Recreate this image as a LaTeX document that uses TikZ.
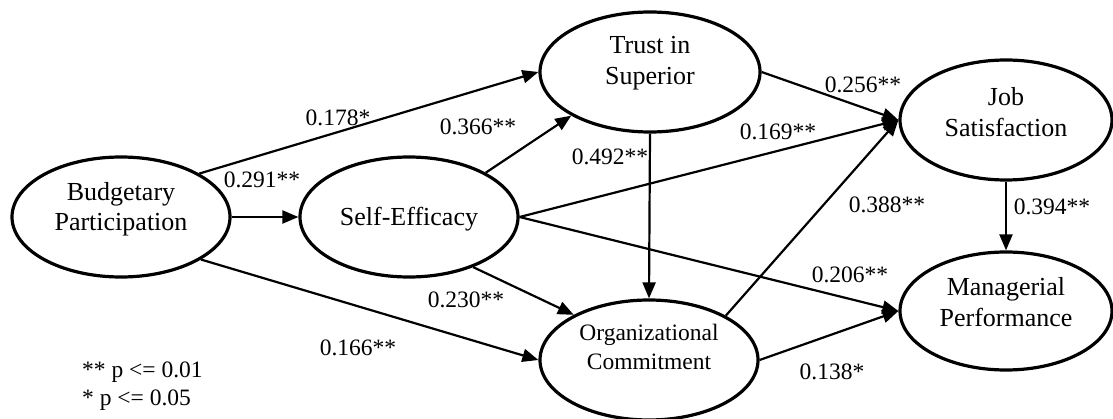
\documentclass[tikz,border=0pt]{standalone}
\usepackage{fontspec}
\setmainfont{Liberation Serif}
\usetikzlibrary{shapes.geometric,arrows.meta}
\begin{document}
\begin{tikzpicture}[x=1pt,y=-1pt,
  every node/.style={font=\fontsize{23.5}{30}\selectfont},
  latent/.style={ellipse,draw,line width=3.2pt,inner sep=0pt},
  pathline/.style={line width=2.2pt,-{Triangle[length=16pt,width=13pt]}},
  coef/.style={inner sep=0pt},
  ename/.style={align=center,inner sep=0pt,font=\fontsize{26}{30.5}\selectfont},
  enamesmall/.style={align=center,inner sep=0pt,font=\fontsize{23.5}{29}\selectfont}
]
\useasboundingbox (0,0) rectangle (1113,419);

\node[latent,minimum width=218pt,minimum height=120pt,label={[ename,yshift=8pt]center:Budgetary\\Participation}] (bp) at (121,217) {};
\node[latent,minimum width=218pt,minimum height=120pt,label={[ename,yshift=-2pt]center:Self-Efficacy}] (se) at (409,217) {};
\node[latent,minimum width=220pt,minimum height=120pt,label={[ename,yshift=9pt]center:Trust in\\Superior}] (ts) at (650,72) {};
\node[latent,minimum width=212pt,minimum height=120pt,label={[ename,yshift=8pt]center:Job\\Satisfaction}] (js) at (1006,120) {};
\node[latent,minimum width=218pt,minimum height=120pt,label={[enamesmall,yshift=13pt]center:Organizational\\Commitment}] (oc) at (649,360) {};
\node[latent,minimum width=212pt,minimum height=118pt,label={[ename,yshift=9pt]center:Managerial\\Performance}] (mp) at (1006,311) {};

\draw[pathline] (bp.29.5) -- (ts.west);
\draw[pathline] (bp.east) -- (se.west);
\draw[pathline] (bp.-28.6) -- (oc.west);
\draw[pathline] (se.30.6) -- (ts.209.4);
\draw[pathline] (se.east) -- (js.west);
\draw[pathline] (se.east) -- (mp.west);
\draw[pathline] (se.-38.9) -- (oc.149.7);
\draw[pathline] (ts.south) -- (oc.north);
\draw[pathline] (ts.east) -- (js.west);
\draw[pathline] (oc.30.6) -- (js.west);
\draw[pathline] (oc.east) -- (mp.west);
\draw[pathline] (js.south) -- (mp.north);

\node[coef] (l1) at (338,118) {0.178*};
\node[coef] (l2) at (262,180) {0.291**};
\node[coef] (l3) at (478,127) {0.366**};
\node[coef] (l4) at (610,157) {0.492**};
\node[coef] (l5) at (778,132) {0.169**};
\node[coef] (l6) at (863,85) {0.256**};
\node[coef] (l7) at (887,205) {0.388**};
\node[coef] (l8) at (1052,207) {0.394**};
\node[coef] (l9) at (850,275) {0.206**};
\node[coef] (l10) at (466,300) {0.230**};
\node[coef] (l11) at (358,348) {0.166**};
\node[coef] (l12) at (832,372) {0.138*};

\node[coef,anchor=west] (n1) at (82,372) {** p <= 0.01};
\node[coef,anchor=west] (n2) at (82,400) {* p <= 0.05};
\end{tikzpicture}
\end{document}
